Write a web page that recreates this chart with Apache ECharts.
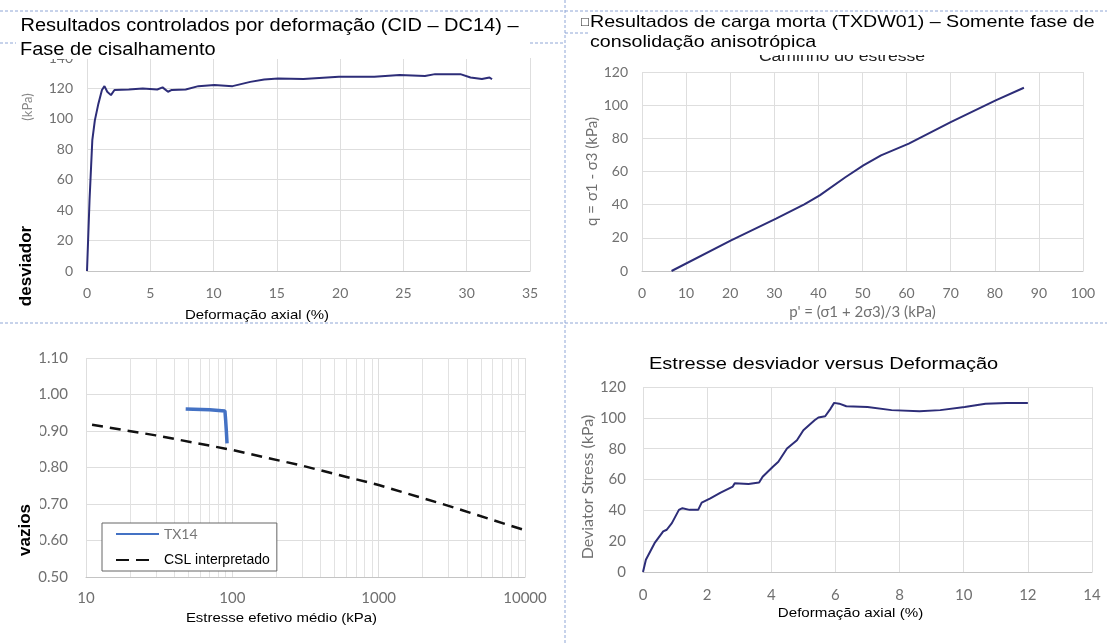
<!DOCTYPE html>
<html><head><meta charset="utf-8">
<script src="https://cdn.jsdelivr.net/npm/echarts@6/dist/echarts.min.js"></script>
<style>html,body{margin:0;padding:0;background:#fff}#c{width:1107px;height:643px}</style>
</head><body><div id="c"></div>
<script>
// Top-left: CID – DC14 shear phase (axial strain %, deviator kPa)
const cidStrain = [0,0.2,0.42,0.62,0.9,1.18,1.38,1.6,1.89,2.17,3.3,4.4,5.55,5.97,6.4,6.7,7.8,8.8,10.06,11.5,12.9,14,15.1,17.1,19.9,22.7,24.7,26.7,27.5,29.5,30.3,31.2,31.8,32.0];
const cidDev = [0,46.5,86,99,110,119,121.5,117.8,115.6,119,119.3,120,119.3,120.7,117.8,119,119.3,121.5,122.2,121.5,124.3,125.9,126.6,126.2,127.7,127.7,128.8,128.1,129.4,129.4,127.2,126.2,127.2,126];
// Top-right: stress path p' vs q
const pathP = [6.7,20.2,30.4,36.8,40.3,46.2,50.2,54.2,60.5,70,80.2,86.6];
const pathQ = [0,18.5,31.6,40.2,45.6,56.7,63.7,69.7,76.8,89.8,102.9,110.5];
// Bottom-left: void ratio vs mean effective stress
const tx14P = [48,70,89,90,91,92];
const tx14E = [0.960,0.958,0.955,0.93,0.90,0.866];
const cslP = [11,30,100,300,1000,3000,10000];
const cslE = [0.917,0.888,0.848,0.805,0.752,0.695,0.628];
const logMinorTicks = [20,30,40,50,60,70,80,90,200,300,400,500,600,700,800,900,2000,3000,4000,5000,6000,7000,8000,9000];
const logMajorLabels = ['10','100','1000','10000'];
// Bottom-right: deviator stress vs axial strain
const dwStrain = [0,0.09,0.36,0.63,0.74,0.9,1.12,1.23,1.45,1.72,1.83,2.1,2.42,2.8,2.86,3.29,3.62,3.73,4.05,4.22,4.49,4.8,5.0,5.35,5.47,5.68,5.85,5.96,6.12,6.34,7.0,7.75,8.62,9.27,10.03,10.68,11.34,12.0];
const dwDev = [0,8,18.7,26.3,27.4,31.7,40.3,41.4,40.3,40.3,45,47.8,51.5,55.4,57.5,57.1,58,61.8,68.3,71.5,80.1,85.5,92,98.4,100.2,101,106,109.7,109.2,107.5,107.1,105,104.3,105,107.1,109.2,109.7,109.7];

const zip = (a, b) => a.map((v, i) => [v, b[i]]);
const navy = '#2d2d78';
const lab = {color:'#707070', fontFamily:'Lato', fontSize:14};
const split = {show:true, lineStyle:{color:'#dedede', width:1}};
const xLine = {show:true, lineStyle:{color:'#c4c4c4'}};

function xa(g, extra) {
  return Object.assign({gridIndex:g, type:'value', axisTick:{show:false}, axisLine:xLine, splitLine:split,
    axisLabel:Object.assign({margin:15}, lab)}, extra);
}
function ya(g, extra) {
  return Object.assign({gridIndex:g, type:'value', axisTick:{show:false}, axisLine:{show:false}, splitLine:split,
    axisLabel:Object.assign({margin:14}, lab)}, extra);
}

const AR = '"Liberation Sans", Arial, sans-serif';
const dash = {stroke:'#8fa6d6', lineWidth:1, lineDash:[3,2]};
function txt(text, x, y, size, sx, extra) {
  return Object.assign({type:'text', z:20, x:x, y:y, scaleX:sx,
    style:{text:text, font:size+'px '+AR, fill:'#000', align:'left', verticalAlign:'middle'}}, extra || {});
}

const chart = echarts.init(document.getElementById('c'), null, {renderer:'canvas'});
chart.setOption({
  animation:false,
  backgroundColor:'#ffffff',
  grid:[
    {left:87, top:58, width:443, height:213},
    {left:642, top:72, width:441, height:199},
    {left:86, top:358, width:439, height:219},
    {left:643, top:387, width:449, height:185}
  ],
  xAxis:[
    xa(0, {min:0, max:35, interval:5}),
    xa(1, {min:0, max:100, interval:10, name:"p' = (σ1 + 2σ3)/3 (kPa)", nameLocation:'middle', nameGap:34,
      nameTextStyle:{color:'#707070', fontFamily:'Lato', fontSize:15}}),
    xa(2, {type:'log', logBase:10, min:10, max:10000,
      axisLabel:Object.assign({}, lab, {margin:14, fontSize:15, formatter:(v)=>logMajorLabels[Math.round(Math.log10(v))-1]})}),
    xa(3, {min:0, max:14, interval:2, axisLabel:Object.assign({}, lab, {margin:16, fontSize:15})})
  ],
  yAxis:[
    ya(0, {min:0, max:140, interval:20}),
    ya(1, {min:0, max:120, interval:20, name:'q = σ1 - σ3 (kPa)', nameLocation:'middle', nameGap:40,
      nameTextStyle:{color:'#707070', fontFamily:'Lato', fontSize:15}}),
    ya(2, {min:0.5, max:1.1, interval:0.1, axisLabel:Object.assign({}, lab, {margin:18, fontSize:15, formatter:(v)=>v.toFixed(2)})}),
    ya(3, {min:0, max:120, interval:20, name:'Deviator Stress (kPa)', nameLocation:'middle', nameGap:39,
      axisLabel:Object.assign({}, lab, {margin:17, fontSize:15}),
      nameTextStyle:{color:'#707070', fontFamily:'Lato', fontSize:16, padding:[0,15,0,0]}})
  ],
  legend:{
    orient:'vertical', left:102, top:523, padding:[4,7,4,13], itemGap:12, itemWidth:43, itemHeight:14,
    borderColor:'#666', borderWidth:1, backgroundColor:'#fff',
    itemStyle:{opacity:0},
    data:[
      {name:'TX14', textStyle:{color:'#777', fontFamily:'Lato', fontSize:14, lineHeight:14}},
      {name:'CSL interpretado', lineStyle:{type:[13,7,13,30]},
       textStyle:{color:'#000', fontFamily:AR, fontSize:14, lineHeight:14}}
    ]
  },
  series:[
    {type:'line', xAxisIndex:0, yAxisIndex:0, data:zip(cidStrain, cidDev), showSymbol:false, symbol:'none',
     lineStyle:{color:navy, width:2}},
    {type:'line', xAxisIndex:1, yAxisIndex:1, data:zip(pathP, pathQ), showSymbol:false, symbol:'none',
     lineStyle:{color:navy, width:2}},
    {type:'line', name:'_minor', xAxisIndex:2, yAxisIndex:2, data:[], symbol:'none', z:1,
     markLine:{silent:true, symbol:'none', z:1, label:{show:false}, animation:false,
       lineStyle:{color:'#e2e2e2', type:'solid', width:1},
       data:logMinorTicks.map(v=>({xAxis:v}))}},
    {type:'line', name:'CSL interpretado', xAxisIndex:2, yAxisIndex:2, data:zip(cslP, cslE), symbol:'none',
     color:'#111', lineStyle:{color:'#111', width:2.5, type:[11,7]}},
    {type:'line', name:'TX14', xAxisIndex:2, yAxisIndex:2, data:zip(tx14P, tx14E), symbol:'none',
     color:'#4472c4', lineStyle:{color:'#4472c4', width:3.5}},
    {type:'line', xAxisIndex:3, yAxisIndex:3, data:zip(dwStrain, dwDev), showSymbol:false, symbol:'none',
     lineStyle:{color:navy, width:2}}
  ],
  graphic:[
    {type:'line', z:1, shape:{x1:0, y1:11, x2:1107, y2:11}, style:dash},
    {type:'line', z:1, shape:{x1:0, y1:43, x2:565, y2:43}, style:dash},
    {type:'line', z:1, shape:{x1:565, y1:33, x2:1107, y2:33}, style:dash},
    {type:'line', z:1, shape:{x1:0, y1:323, x2:1107, y2:323}, style:dash},
    {type:'line', z:1, shape:{x1:565, y1:0, x2:565, y2:643}, style:dash},
    // chart title partly hidden by the slide caption box
    txt('Caminho do estresse', 842, 57, 15.3, 1.15, {z:5, style:{text:'Caminho do estresse', font:'15.3px '+AR, fill:'#222', align:'center', verticalAlign:'middle'}}),
    // white caption boxes
    {type:'rect', z:15, shape:{x:16, y:13, width:514, height:46}, style:{fill:'#fff'}},
    {type:'rect', z:15, shape:{x:576, y:12, width:531, height:19}, style:{fill:'#fff'}},
    {type:'rect', z:15, shape:{x:588, y:31, width:519, height:24}, style:{fill:'#fff'}},
    {type:'rect', z:15, shape:{x:6, y:385, width:34, height:175}, style:{fill:'#fff'}},
    // captions
    txt('Resultados controlados por deformação (CID – DC14) –', 20.5, 26.5, 17.5, 1.143),
    txt('Fase de cisalhamento', 20, 50.5, 17.5, 1.143),
    txt('\u25A1', 580, 22, 10.5, 1, {style:{text:'\u25A1', font:'10.5px "DejaVu Sans"', fill:'#333', align:'left', verticalAlign:'middle'}}),
    txt('Resultados de carga morta (TXDW01) – Somente fase de', 590, 22, 17, 1.156),
    txt('consolidação anisotrópica', 590, 42.3, 17, 1.156),
    txt('Estresse desviador versus Deformação', 649, 364.5, 17.3, 1.158),
    {type:'text', z:20, x:26, y:266, rotation:Math.PI/2,
     style:{text:'desviador', font:'bold 17px '+AR, fill:'#000', align:'center', verticalAlign:'middle'}},
    {type:'text', z:20, x:28, y:107, rotation:Math.PI/2,
     style:{text:'(kPa)', font:'13px Lato', fill:'#888', align:'center', verticalAlign:'middle'}},
    {type:'text', z:20, x:25, y:530, rotation:Math.PI/2,
     style:{text:'vazios', font:'bold 17px '+AR, fill:'#000', align:'center', verticalAlign:'middle'}},
    txt('Deformação axial (%)', 257, 315, 13.5, 1.11, {style:{text:'Deformação axial (%)', font:'13.5px '+AR, fill:'#000', align:'center', verticalAlign:'middle'}}),
    txt('Estresse efetivo médio (kPa)', 281.5, 618, 13.5, 1.108, {style:{text:'Estresse efetivo médio (kPa)', font:'13.5px '+AR, fill:'#000', align:'center', verticalAlign:'middle'}}),
    txt('Deformação axial (%)', 850.5, 613, 13.5, 1.12, {style:{text:'Deformação axial (%)', font:'13.5px '+AR, fill:'#000', align:'center', verticalAlign:'middle'}})
  ]
});
</script></body></html>
